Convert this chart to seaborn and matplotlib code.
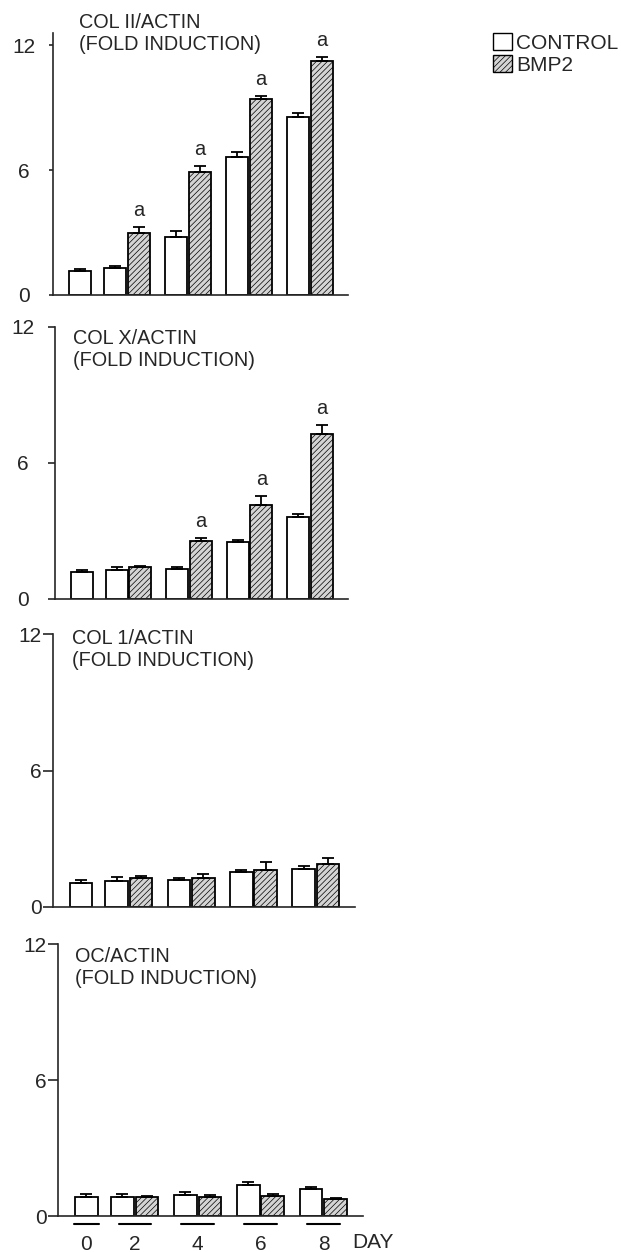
import numpy as np
import pandas as pd
import matplotlib
matplotlib.use("Agg")
import matplotlib.pyplot as plt
from matplotlib.patches import Patch
from matplotlib.transforms import blended_transform_factory
import seaborn as sns

# data (fold induction, mean and SEM)
days = ["0", "2", "4", "6", "8"]
groups = ["CONTROL", "BMP2"]

col2_ctrl = [1.17, 1.31, 2.77, 6.64, 8.54]
col2_ctrl_sem = [0.06, 0.08, 0.29, 0.24, 0.20]
col2_bmp = [np.nan, 2.96, 5.89, 9.39, 11.25]
col2_bmp_sem = [np.nan, 0.29, 0.30, 0.18, 0.19]
col2_sig = [False, True, True, True, True]

col10_ctrl = [1.18, 1.28, 1.34, 2.50, 3.60]
col10_ctrl_sem = [0.09, 0.15, 0.06, 0.10, 0.15]
col10_bmp = [np.nan, 1.41, 2.54, 4.13, 7.29]
col10_bmp_sem = [np.nan, 0.06, 0.16, 0.40, 0.37]
col10_sig = [False, False, True, True, True]

col1_ctrl = [1.05, 1.16, 1.20, 1.52, 1.68]
col1_ctrl_sem = [0.15, 0.16, 0.06, 0.09, 0.11]
col1_bmp = [np.nan, 1.29, 1.29, 1.61, 1.89]
col1_bmp_sem = [np.nan, 0.06, 0.14, 0.35, 0.28]
col1_sig = [False] * 5

oc_ctrl = [0.86, 0.86, 0.93, 1.36, 1.18]
oc_ctrl_sem = [0.11, 0.11, 0.13, 0.13, 0.12]
oc_bmp = [np.nan, 0.86, 0.86, 0.89, 0.74]
oc_bmp_sem = [np.nan, 0.03, 0.07, 0.10, 0.06]
oc_sig = [False] * 5

panels = [
    ("COL II/ACTIN", col2_ctrl, col2_ctrl_sem, col2_bmp, col2_bmp_sem, col2_sig),
    ("COL X/ACTIN", col10_ctrl, col10_ctrl_sem, col10_bmp, col10_bmp_sem, col10_sig),
    ("COL 1/ACTIN", col1_ctrl, col1_ctrl_sem, col1_bmp, col1_bmp_sem, col1_sig),
    ("OC/ACTIN", oc_ctrl, oc_ctrl_sem, oc_bmp, oc_bmp_sem, oc_sig),
]

# layout
W, H = 621, 1252
rects = [(53, 33, 348, 295), (55, 327, 348, 599), (53, 634, 355, 907), (58, 944, 363, 1216)]
ytops = [12.58, 12, 12, 12]
title_pos = [(79, 33.5), (73, 349), (72, 650), (75, 967.5)]
tick_len = [3, 5, 7, 7]
ctrl_x = np.array([0.0, 1.45, 4.0, 6.55, 9.1])
bmp_x = ctrl_x + 1

sns.set_style("ticks")
plt.rcParams["font.family"] = ["Liberation Sans", "DejaVu Sans"]
plt.rcParams["hatch.linewidth"] = 0.5

fig = plt.figure(figsize=(W / 100, H / 100), dpi=100)

for k, (name, ctrl, ctrl_sem, bmp, bmp_sem, sig) in enumerate(panels):
    l, t, r, b = rects[k]
    ax = fig.add_axes([l / W, 1 - b / H, (r - l) / W, (b - t) / H])

    df = pd.DataFrame({
        "x": np.concatenate([ctrl_x, bmp_x]),
        "value": np.concatenate([ctrl, bmp]),
        "group": ["CONTROL"] * 5 + ["BMP2"] * 5,
    }).dropna()

    sns.barplot(data=df, x="x", y="value", hue="group", hue_order=groups,
                palette={"CONTROL": "white", "BMP2": "#d4d4d4"},
                native_scale=True, dodge=False, width=0.92, errorbar=None,
                edgecolor="black", linewidth=1.3, legend=False, ax=ax)
    for p in ax.patches:
        if p.get_facecolor()[0] < 0.99:
            p.set_hatch("//////")

    ax.errorbar(ctrl_x, ctrl, yerr=[np.zeros(5), ctrl_sem], fmt="none",
                ecolor="black", elinewidth=1.3, capsize=4, capthick=1.3, zorder=3)
    ax.errorbar(bmp_x, bmp, yerr=[np.zeros(5), bmp_sem], fmt="none",
                ecolor="black", elinewidth=1.3, capsize=4, capthick=1.3, zorder=3)

    for i, s in enumerate(sig):
        if s:
            ax.annotate("a", (bmp_x[i], bmp[i] + bmp_sem[i]), xytext=(0, 5),
                        textcoords="offset points", ha="center", va="bottom", fontsize=14.5)

    ax.set_xlim(-1.15, 11.2)
    ax.set_ylim(0, ytops[k])
    ax.set_yticks([0, 6, 12])
    ax.set_yticklabels(["0", "6", "12"])
    ax.set_xlabel("")
    ax.set_ylabel("")
    sns.despine(ax=ax)
    for sp in ["left", "bottom"]:
        ax.spines[sp].set_linewidth(1.2)

    if k < 2:
        ax.tick_params(axis="y", length=tick_len[k], width=1.2, pad=18, labelsize=15)
        for lab in ax.get_yticklabels():
            lab.set_horizontalalignment("center")
    else:
        ax.tick_params(axis="y", length=tick_len[k], width=1.2, pad=1, labelsize=15)

    fig.text(title_pos[k][0] / W, 1 - title_pos[k][1] / H, name + "\n(FOLD INDUCTION)",
             ha="left", va="center", fontsize=14.3, linespacing=1.2)

    if k < 3:
        ax.set_xticks([])
    else:
        centers = np.concatenate([[ctrl_x[0]], ctrl_x[1:] + 0.5])
        ax.set_xticks(centers)
        ax.set_xticklabels(days)
        ax.tick_params(axis="x", length=0, pad=14, labelsize=15)
        trans = blended_transform_factory(ax.transData, ax.transAxes)
        for j, c in enumerate(centers):
            hw = 0.5 if j == 0 else 0.65
            ax.plot([c - hw, c + hw], [-0.028, -0.028], transform=trans,
                    clip_on=False, color="black", lw=1.5)
        ax.text(ctrl_x[-1] + 1.67, -0.099, "DAY", transform=trans,
                ha="left", va="center", fontsize=15)

handles = [Patch(facecolor="white", edgecolor="black", linewidth=1),
           Patch(facecolor="#d4d4d4", edgecolor="black", hatch="//////", linewidth=1)]
fig.legend(handles=handles, labels=groups, loc="upper left",
           bbox_to_anchor=(493 / W, 1 - 33 / H), frameon=False, fontsize=15,
           handlelength=0.9, handleheight=0.9, handletextpad=0.2,
           labelspacing=0.1, borderpad=0, borderaxespad=0)

plt.savefig("out.png", dpi=100)
